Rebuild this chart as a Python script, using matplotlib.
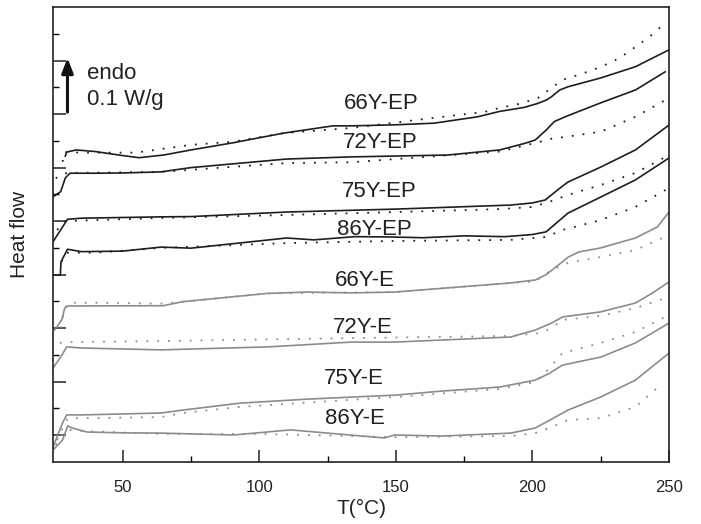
import numpy as np
from matplotlib import pyplot as plt
from matplotlib.ticker import FixedLocator

plt.rcParams['font.family'] = ['Liberation Sans', 'DejaVu Sans']

# DSC curves, heat flow in arbitrary offset units (1 unit = 1 minor tick)
t_66ep = [29.0, 29.5, 33, 40, 50, 56, 65, 75, 90, 109, 127, 134, 150, 164, 180, 188, 197, 202, 205, 207, 210, 213, 225, 237.7, 250]
h_66ep = [11.43, 11.58, 11.66, 11.6, 11.45, 11.37, 11.47, 11.66, 11.92, 12.29, 12.56, 12.56, 12.6, 12.66, 12.9, 13.1, 13.25, 13.4, 13.52, 13.65, 13.9, 14.02, 14.35, 14.77, 15.4]
t_66ep_d = [28.0, 28.7, 35, 55, 75, 90.6, 109, 133.6, 164, 182.5, 188, 196, 202, 207, 211, 218, 225, 232, 237.7, 243, 248]
h_66ep_d = [11.22, 11.58, 11.56, 11.56, 11.85, 11.97, 12.29, 12.48, 12.86, 13.08, 13.23, 13.4, 13.6, 13.98, 14.28, 14.5, 14.76, 15.1, 15.51, 15.9, 16.35]

t_72ep = [24.5, 27.3, 29, 30.7, 40, 50, 64, 75, 110, 133.6, 169, 188, 197, 201, 205, 208, 212, 225, 237.7, 248.6]
h_72ep = [9.91, 10.1, 10.61, 10.79, 10.79, 10.8, 10.84, 11.0, 11.32, 11.4, 11.47, 11.66, 11.9, 12.03, 12.4, 12.72, 12.9, 13.42, 13.9, 14.58]
t_72ep_d = [25.5, 27.5, 30, 64, 110, 133.6, 188, 201, 207, 213, 225, 237.7, 250]
h_72ep_d = [10.6, 10.75, 10.8, 10.84, 11.17, 11.2, 11.6, 11.92, 12.08, 12.16, 12.34, 12.9, 13.6]

t_75ep = [24.5, 27.3, 29.8, 35, 64, 75, 110, 150, 192, 200, 204.7, 209, 213, 225, 237.7, 250]
h_75ep = [8.23, 8.67, 9.07, 9.11, 9.16, 9.17, 9.34, 9.45, 9.6, 9.68, 9.79, 10.15, 10.46, 11.02, 11.66, 12.59]
t_75ep_d = [26, 29, 35, 64, 110, 150, 188, 200, 207, 213, 225, 237.7, 250]
h_75ep_d = [8.67, 9.0, 9.02, 9.12, 9.23, 9.34, 9.45, 9.53, 9.75, 9.98, 10.35, 10.8, 11.47]

t_86ep = [24.5, 27.2, 27.4, 29.8, 35, 50, 64, 75, 110, 120, 135, 147, 160, 175, 190, 200, 205, 209, 213, 225, 237.7, 250]
h_86ep = [6.99, 6.99, 7.47, 7.95, 7.86, 7.88, 8.03, 7.99, 8.37, 8.3, 8.42, 8.41, 8.38, 8.45, 8.42, 8.5, 8.6, 8.95, 9.3, 9.9, 10.54, 11.36]
t_86ep_d = [27.6, 29.5, 40, 64, 110, 150, 192, 205, 211, 225, 237.7, 250]
h_86ep_d = [7.48, 7.82, 7.82, 8.0, 8.18, 8.26, 8.3, 8.41, 8.67, 9.04, 9.53, 10.24]

t_66e = [25.1, 27.7, 28.8, 29.9, 64.8, 72, 103, 117.7, 133.6, 149.5, 192, 201, 205, 209.5, 213, 217, 225, 237.7, 245.7, 250]
h_66e = [4.93, 5.31, 5.75, 5.83, 5.84, 5.99, 6.3, 6.35, 6.32, 6.35, 6.69, 6.8, 7.0, 7.36, 7.65, 7.85, 8.0, 8.37, 8.78, 9.34]
t_66e_d = [27.3, 28.5, 30, 40, 64, 72, 103, 150, 192, 201, 207, 213, 225, 237.7, 250]
h_66e_d = [5.0, 5.6, 5.95, 5.95, 5.92, 5.99, 6.3, 6.35, 6.69, 6.75, 7.17, 7.44, 7.66, 7.92, 8.48]

t_72e = [24.5, 27.3, 29.5, 35, 64, 103, 133.6, 149.5, 192, 201, 207, 211, 225, 237.7, 244, 250]
h_72e = [3.51, 3.92, 4.3, 4.26, 4.19, 4.3, 4.48, 4.48, 4.67, 4.93, 5.19, 5.42, 5.61, 5.94, 6.32, 6.73]
t_72e_d = [27, 29.5, 64, 133.6, 192, 203, 207, 211, 225, 237.7, 250]
h_72e_d = [4.45, 4.48, 4.52, 4.63, 4.71, 4.82, 5.01, 5.31, 5.46, 5.75, 6.17]

t_75e = [24.5, 25.1, 28, 29.5, 35, 64, 72, 93, 117.7, 150, 166.7, 188, 201, 206, 211, 225, 237.7, 250]
h_75e = [0.56, 0.71, 1.46, 1.76, 1.76, 1.83, 1.94, 2.2, 2.35, 2.5, 2.65, 2.8, 3.06, 3.3, 3.62, 3.92, 4.45, 5.19]
t_75e_d = [26, 28.5, 30, 40, 64, 72, 93, 150, 188, 201, 204.6, 211, 225, 237.7, 250]
h_75e_d = [0.82, 1.38, 1.64, 1.64, 1.68, 1.83, 2.06, 2.43, 2.73, 2.99, 3.33, 4.07, 4.45, 4.86, 5.49]

t_86e = [24.5, 28, 29.9, 31.5, 37, 50, 64, 90.6, 111.5, 125, 145.8, 149.5, 166.7, 192, 201, 207, 213, 225, 237.7, 250]
h_86e = [0.45, 0.82, 1.35, 1.27, 1.12, 1.09, 1.08, 1.01, 1.2, 1.08, 0.9, 1.01, 0.97, 1.08, 1.27, 1.6, 1.94, 2.43, 3.06, 4.07]
t_86e_d = [25.5, 28, 30, 35, 64, 100, 150, 192, 201, 207, 213, 225, 237.7, 247.7]
h_86e_d = [0.64, 1.08, 1.2, 1.16, 1.05, 1.05, 0.93, 0.97, 1.08, 1.3, 1.57, 1.64, 2.06, 2.95]

labels = ['66Y-EP', '72Y-EP', '75Y-EP', '86Y-EP', '66Y-E', '72Y-E', '75Y-E', '86Y-E']
label_t = [144.6, 144.2, 144.0, 142.2, 138.7, 138.0, 134.7, 135.0]
label_h = [13.4, 11.92, 10.11, 8.7, 6.8, 5.01, 3.12, 1.62]

ep_col = '#1e1e1e'
e_col = '#8c8c8c'
dot = (0, (1, 5))

fig = plt.figure(figsize=(7.01, 5.24), dpi=100)
ax = fig.add_axes([0.0756, 0.1183, 0.8788, 0.8683])

solid = [(t_66ep, h_66ep), (t_72ep, h_72ep), (t_75ep, h_75ep), (t_86ep, h_86ep),
         (t_66e, h_66e), (t_72e, h_72e), (t_75e, h_75e), (t_86e, h_86e)]
dotted = [(t_66ep_d, h_66ep_d), (t_72ep_d, h_72ep_d), (t_75ep_d, h_75ep_d), (t_86ep_d, h_86ep_d),
          (t_66e_d, h_66e_d), (t_72e_d, h_72e_d), (t_75e_d, h_75e_d), (t_86e_d, h_86e_d)]

for i in range(8):
    c = ep_col if i < 4 else e_col
    ax.plot(dotted[i][0], dotted[i][1], color=c, lw=1.3, linestyle=dot)
    ax.plot(solid[i][0], solid[i][1], color=c, lw=1.2)
    ax.text(label_t[i], label_h[i], labels[i], fontsize=16, color='#222222',
            ha='center', va='center')

# scale arrow
ax.annotate('', xy=(29.8, 15.2), xytext=(29.8, 12.97),
            arrowprops=dict(arrowstyle='-|>,head_width=0.35,head_length=0.9',
                            color='#111111', lw=2.2))
ax.text(37.0, 14.5, 'endo', fontsize=16, color='#222222', va='center')
ax.text(37.0, 13.53, '0.1 W/g', fontsize=16, color='#222222', va='center')

ax.set_xlim(24.5, 250)
ax.set_ylim(0, 17)
ax.xaxis.set_major_locator(FixedLocator([50, 100, 150, 200, 250]))
ax.xaxis.set_minor_locator(FixedLocator([75, 125, 175, 225]))
ax.yaxis.set_major_locator(FixedLocator(np.arange(1, 17, 2)))
ax.yaxis.set_minor_locator(FixedLocator(np.arange(2, 17, 2)))
ax.set_yticklabels([])
ax.tick_params(which='major', direction='in', length=9, width=1.1, labelsize=12, colors='#222222')
ax.tick_params(which='minor', direction='in', length=4.5, width=1.0)
ax.tick_params(axis='x', pad=13)
for s in ax.spines.values():
    s.set_linewidth(1.2)
    s.set_color('#222222')

ax.set_xlabel('T(°C)', fontsize=15, color='#222222', labelpad=3)
ax.set_ylabel('Heat flow', fontsize=15, color='#222222', labelpad=14)

fig.savefig('out.png', dpi=100)
